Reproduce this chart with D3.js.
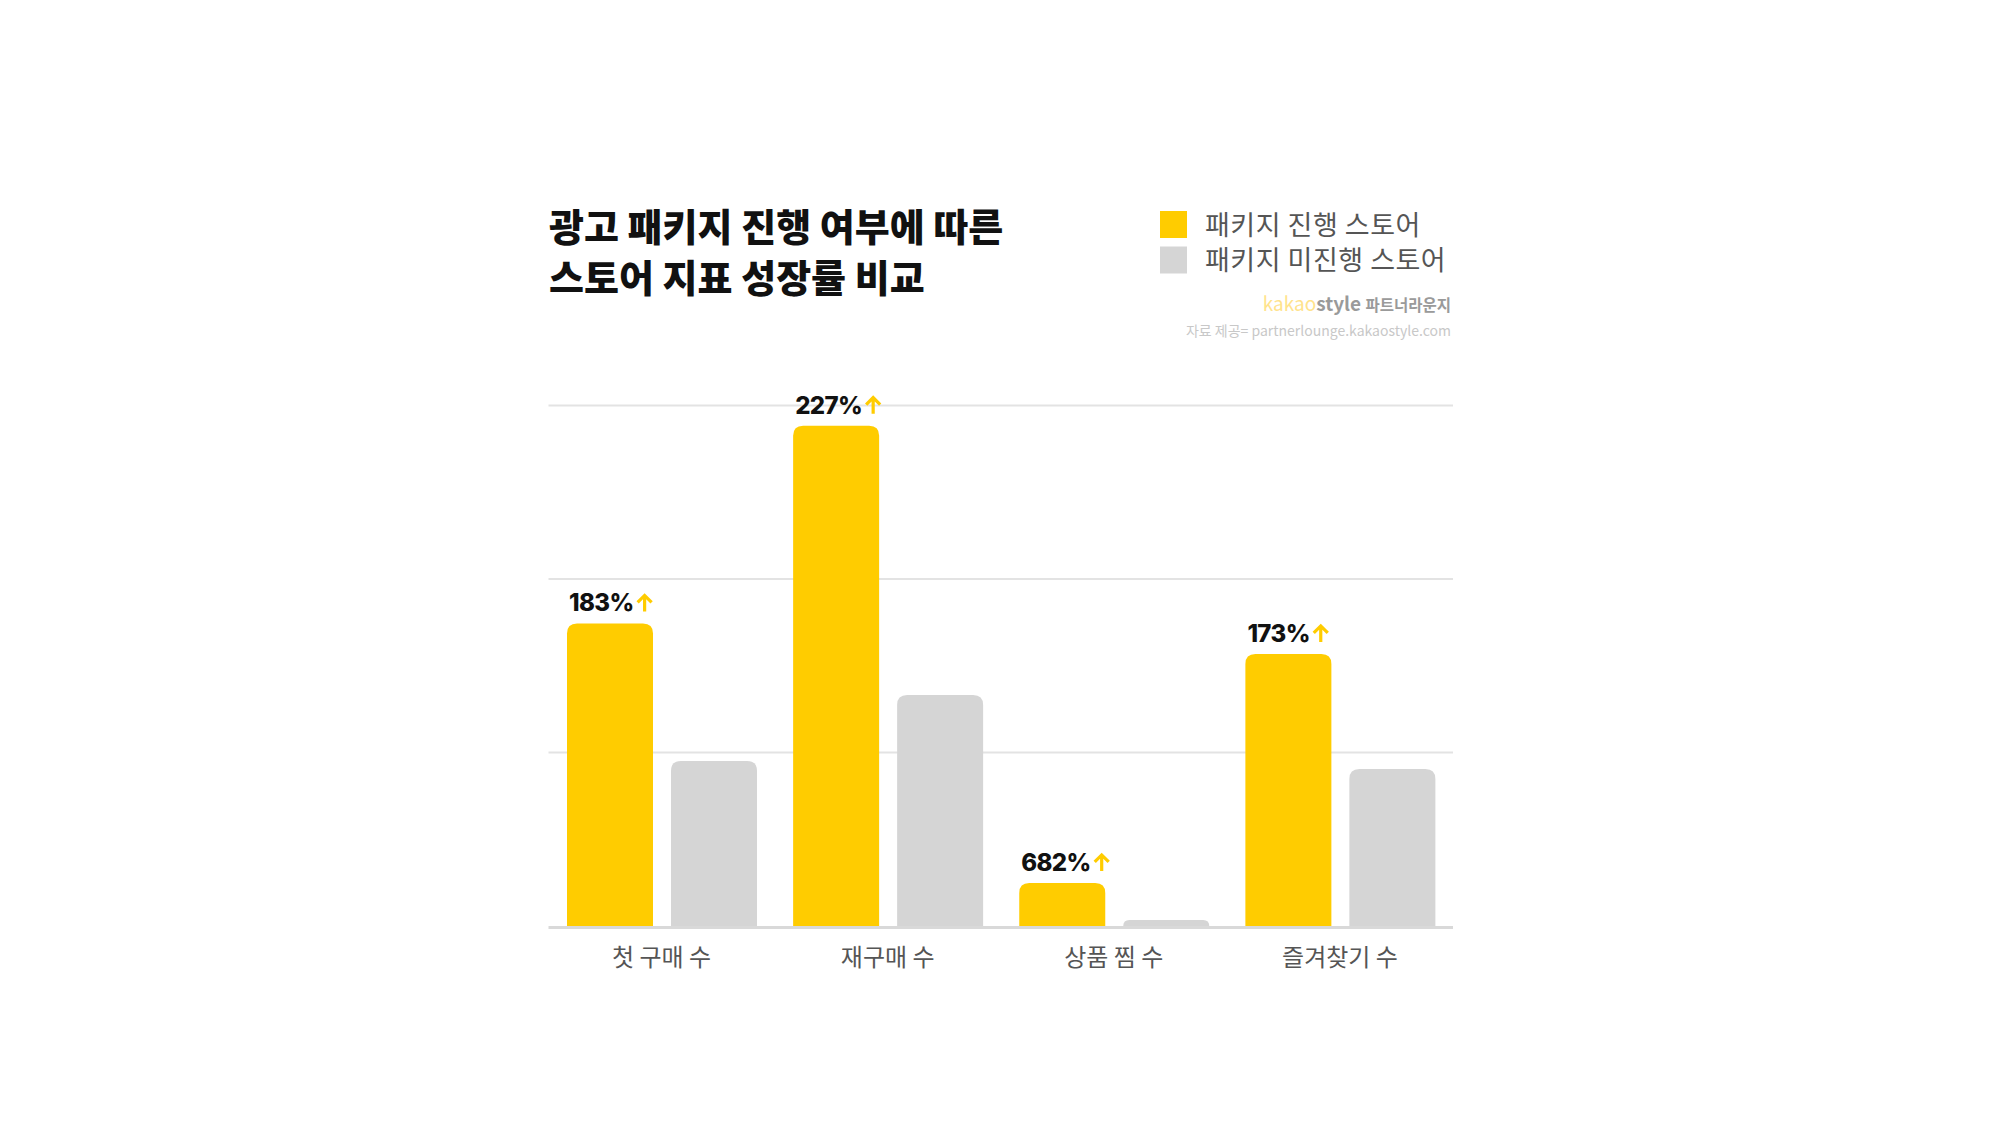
<!DOCTYPE html>
<html>
<head>
<meta charset="utf-8">
<script src="https://cdn.jsdelivr.net/npm/d3@7"></script>
<style>
  html, body { margin: 0; padding: 0; background: #ffffff; }
  svg { display: block; }
</style>
</head>
<body>
<script>
// ---- data ----
const categories = ["첫 구매 수", "재구매 수", "상품 찜 수", "즐겨찾기 수"];
const seriesNames = ["패키지 진행 스토어", "패키지 미진행 스토어"];
const withPackage = [174.4, 288.4, 24.8, 156.8];
const withoutPackage = [95.1, 133.1, 3.5, 90.5];
const growthLabels = ["183%", "227%", "682%", "173%"];
const gridTicks = [100, 200, 300];
const titleLines = ["광고 패키지 진행 여부에 따른", "스토어 지표 성장률 비교"];

// ---- layout ----
const W = 2000, H = 1125;
const colors = ["#FFCC00", "#D5D5D5"];
const svg = d3.select("body").append("svg").attr("width", W).attr("height", H);
svg.append("rect").attr("width", W).attr("height", H).attr("fill", "#fff");

const x = d3.scaleBand().domain(categories).range([548.5, 1453]).padding(0);
const xi = d3.scaleBand().domain([0, 1]).range([18.5, 208.5]).paddingInner(0.173).paddingOuter(0);
const y = d3.scaleLinear().domain([0, 300]).range([926, 405.5]);

// grid lines
svg.append("g").selectAll("line").data(gridTicks).join("line")
  .attr("x1", 548.5).attr("x2", 1453)
  .attr("y1", d => y(d)).attr("y2", d => y(d))
  .attr("stroke", "#E3E3E3").attr("stroke-width", 2);

// bars with rounded top corners
function topRounded(x0, y0, w, h, r) {
  r = Math.min(r, h, w / 2);
  return `M${x0},${y0 + h}V${y0 + r}Q${x0},${y0} ${x0 + r},${y0}H${x0 + w - r}Q${x0 + w},${y0} ${x0 + w},${y0 + r}V${y0 + h}Z`;
}
const rows = categories.map((c, i) => ({ c, i, vals: [withPackage[i], withoutPackage[i]] }));
const gBars = svg.append("g");
rows.forEach(r => {
  r.vals.forEach((v, s) => {
    const bx = x(r.c) + xi(s);
    const by = y(v);
    gBars.append("path")
      .attr("d", topRounded(bx, by, xi.bandwidth(), y(0) - by, 10))
      .attr("fill", colors[s]);
  });
});

// baseline
svg.append("line").attr("x1", 548.5).attr("x2", 1453)
  .attr("y1", y(0) + 1.5).attr("y2", y(0) + 1.5)
  .attr("stroke", "#D9D9D9").attr("stroke-width", 3);

// value labels + arrows
rows.forEach(r => {
  const bx = x(r.c) + xi(0);
  const by = y(withPackage[r.i]);
  const t = svg.append("text")
    .attr("x", bx + 2).attr("y", by - 12)
    .attr("font-family", "Inter, 'Noto Sans', sans-serif")
    .attr("font-weight", 800).attr("font-size", 24)
    .attr("letter-spacing", -0.6)
    .attr("fill", "#111").text(growthLabels[r.i]);
  const tw = t.node().getComputedTextLength();
  const ax = bx + 2 + tw + 11, ay = by - 12;
  svg.append("path")
    .attr("d", `M${ax},${ay}V${ay - 16}M${ax - 7},${ay - 9}L${ax},${ay - 16}L${ax + 7},${ay - 9}`)
    .attr("fill", "none").attr("stroke", "#FFCC00").attr("stroke-width", 3.2)
    .attr("stroke-linecap", "butt").attr("stroke-linejoin", "miter");
});

// category labels
svg.append("g").selectAll("text").data(categories).join("text")
  .attr("x", d => x(d) + x.bandwidth() / 2).attr("y", 966)
  .attr("text-anchor", "middle")
  .attr("font-family", "'Noto Sans CJK KR', sans-serif")
  .attr("font-size", 24).attr("fill", "#555")
  .text(d => d);

// title
svg.append("g").selectAll("text").data(titleLines).join("text")
  .attr("x", 549).attr("y", (d, i) => 241 + i * 51)
  .attr("font-family", "'Noto Sans CJK KR', sans-serif")
  .attr("font-weight", 900).attr("font-size", 38)
  .attr("letter-spacing", 0)
  .attr("fill", "#111").text(d => d);

// legend
const lg = svg.append("g");
seriesNames.forEach((n, i) => {
  lg.append("rect").attr("x", 1160).attr("y", 211 + i * 35.5).attr("width", 27).attr("height", 27).attr("fill", colors[i]);
  lg.append("text").attr("x", 1205).attr("y", 234.5 + i * 35.5)
    .attr("font-family", "'Noto Sans CJK KR', sans-serif")
    .attr("font-size", 27).attr("letter-spacing", 0.5).attr("fill", "#555").text(n);
});

// source
const src = svg.append("text").attr("x", 1451).attr("y", 311).attr("text-anchor", "end")
  .attr("font-family", "'Noto Sans CJK KR', sans-serif").attr("font-size", 19).attr("font-weight", 700);
src.append("tspan").attr("fill", "#FFE38C").attr("font-weight", 400).text("kakao");
src.append("tspan").attr("fill", "#9A9A9A").text("style ");
src.append("tspan").attr("fill", "#9A9A9A").attr("font-size", 15.5).text("파트너라운지");
svg.append("text").attr("x", 1451).attr("y", 336).attr("text-anchor", "end")
  .attr("font-family", "'Noto Sans CJK KR', sans-serif").attr("font-size", 14)
  .attr("fill", "#C8C8C8").text("자료 제공= partnerlounge.kakaostyle.com");
</script>
</body>
</html>
